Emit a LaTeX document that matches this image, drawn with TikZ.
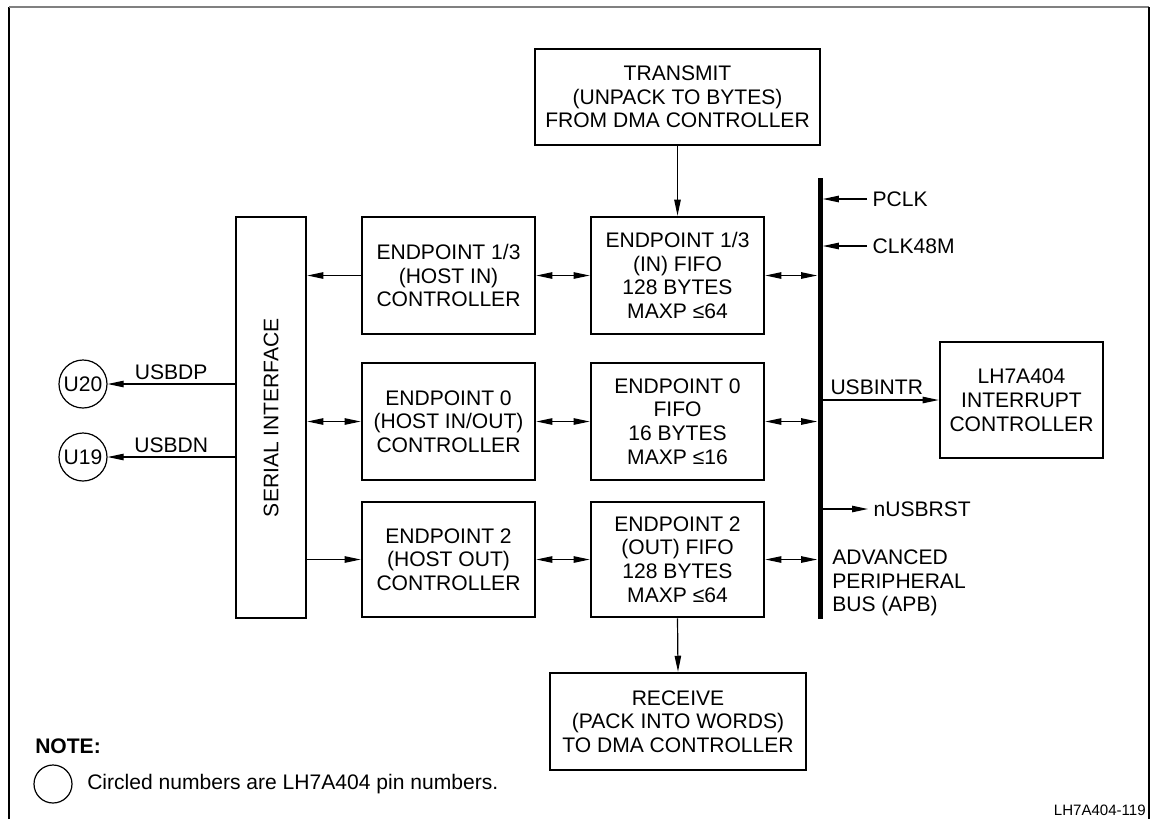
\documentclass[tikz,border=0pt]{standalone}
\usepackage{fontspec}
\setmainfont{Liberation Sans}
\usetikzlibrary{arrows.meta}
\newdimen\pxu \pxu=0.75pt
\begin{document}
\begin{tikzpicture}[x=0.75pt,y=-0.75pt,
  txt/.style={font=\fontsize{15.8}{17.8}\selectfont},
  box/.style={txt, draw, line width=1.9pt, align=center, inner sep=0pt},
  ctl/.style={box, minimum width=173\pxu, minimum height=117\pxu},
  lbl/.style={txt, inner sep=4pt},
  pin/.style={txt, draw, circle, line width=0.9pt, minimum size=48\pxu, inner sep=0pt},
  conn/.style={line width=0.9pt, -{Triangle[length=12pt,width=4.8pt]}},
  dconn/.style={line width=0.9pt, {Triangle[length=12pt,width=4.8pt]}-{Triangle[length=12pt,width=4.8pt]}}
]
\useasboundingbox (0,0) rectangle (1155,819);
% frame
\draw[line width=1.2pt] (9,819) -- (9,7);
\draw[line width=1.6pt, gray] (9,7) -- (1149,7);
\draw[line width=1.2pt] (1149,7) -- (1149,819);

% boxes
\node[box, minimum width=70\pxu, minimum height=401\pxu] (si) at (271,417.5) {};
\node[txt, rotate=90] (sit) at (si.center) {SERIAL INTERFACE};
\node[ctl] (c13) at (448.5,275.5) {ENDPOINT 1/3\\(HOST IN)\\CONTROLLER};
\node[ctl] (f13) at (677.5,275.5) {ENDPOINT 1/3\\(IN) FIFO\\128 BYTES\\MAXP ≤64};
\node[ctl] (c0) at (448.5,421.5) {ENDPOINT 0\\(HOST IN/OUT)\\CONTROLLER};
\node[ctl] (f0) at (677.5,421.5) {ENDPOINT 0\\FIFO\\16 BYTES\\MAXP ≤16};
\node[ctl, minimum height=115\pxu] (c2) at (448.5,559.5) {ENDPOINT 2\\(HOST OUT)\\CONTROLLER};
\node[ctl, minimum height=115\pxu] (f2) at (677.5,559.5) {ENDPOINT 2\\(OUT) FIFO\\128 BYTES\\MAXP ≤64};
\node[box, minimum width=285\pxu, minimum height=96\pxu] (tx) at (677.5,97) {TRANSMIT\\(UNPACK TO BYTES)\\FROM DMA CONTROLLER};
\node[box, minimum width=256\pxu, minimum height=97\pxu] (rx) at (678,721.5) {RECEIVE\\(PACK INTO WORDS)\\TO DMA CONTROLLER};
\node[box, minimum width=163\pxu, minimum height=116\pxu] (irq) at (1021.5,400) {LH7A404\\INTERRUPT\\CONTROLLER};

% bus
\node[fill=black, inner sep=0pt, minimum width=5\pxu, minimum height=441\pxu] (bus) at (820,398.5) {};

% pins
\node[pin] (u20) at (83,384) {U20};
\node[pin] (u19) at (83,457) {U19};

% labels at bus
\node[lbl, anchor=west] (pclk) at (867,199) {PCLK};
\node[lbl, anchor=west] (clk) at (867,246) {CLK48M};
\node[lbl, anchor=west] (nrst) at (868,509) {nUSBRST};
\node[txt, anchor=west, align=left, inner sep=0pt] (apb) at (832,583) {ADVANCED\\PERIPHERAL\\BUS (APB)};

% connectors
\draw[conn] (c13.west) -- (c13.west -| si.east);
\draw[dconn] (c0.west -| si.east) -- (c0.west);
\draw[conn] (c2.west -| si.east) -- (c2.west);
\draw[dconn] (c13.east) -- (f13.west);
\draw[dconn] (c0.east) -- (f0.west);
\draw[dconn] (c2.east) -- (f2.west);
\draw[dconn] (f13.east) -- (f13.east -| bus.west);
\draw[dconn] (f0.east) -- (f0.east -| bus.west);
\draw[dconn] (f2.east) -- (f2.east -| bus.west);
\draw[conn] (tx.south) -- (f13.north);
\draw[conn] (f2.south) -- (rx.north);
\draw[conn] (pclk.west) -- (pclk.west -| bus.east);
\draw[conn] (clk.west) -- (clk.west -| bus.east);
\draw[conn] (nrst.west -| bus.east) -- (nrst.west);
\draw[conn] (irq.west -| bus.east) -- node[txt, above, inner sep=0pt, yshift=5\pxu, xshift=-4\pxu] (usbintr) {USBINTR} (irq.west);
\draw[conn] (u20.east -| si.west) -- node[txt, above, inner sep=0pt, yshift=4\pxu] (usbdp) {USBDP} (u20.east);
\draw[conn] (u19.east -| si.west) -- node[txt, above, inner sep=0pt, yshift=4\pxu] (usbdn) {USBDN} (u19.east);

% note
\node[anchor=west, inner sep=0pt, font=\fontsize{15.8}{17.8}\selectfont\bfseries] (note) at (35,746) {NOTE:};
\node[draw, circle, line width=0.9pt, minimum size=38\pxu, inner sep=0pt] (lc) at (53,784) {};
\node[txt, anchor=west, inner sep=0pt] (ltxt) at (87,784) {Circled numbers are LH7A404 pin numbers.};
\node[anchor=east, inner sep=0pt, font=\fontsize{11.3}{13}\selectfont] (fig) at (1146,810) {LH7A404-119};
\end{tikzpicture}
\end{document}
